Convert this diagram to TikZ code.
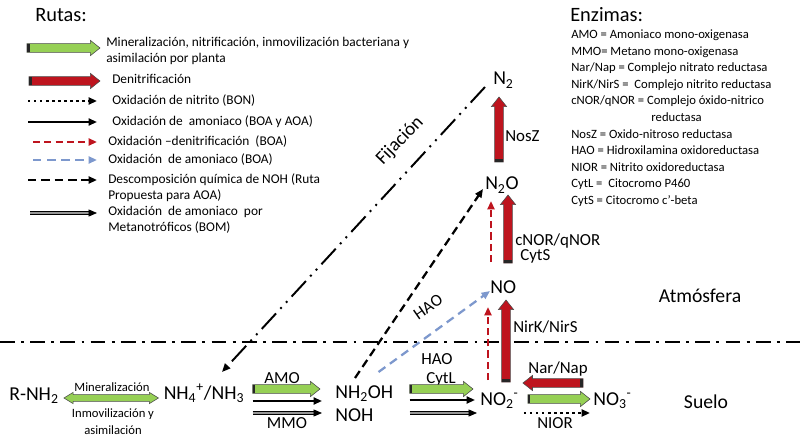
\documentclass[tikz,border=0pt]{standalone}
\usepackage{fontspec}
\setmainfont{Carlito}
\usetikzlibrary{arrows.meta,calc}
\definecolor{ncGreen}{RGB}{150,208,85}
\definecolor{ncRed}{RGB}{190,20,30}
\definecolor{ncBlue}{RGB}{125,152,205}
\definecolor{ncGray}{RGB}{150,150,150}

% sizes of the fat arrows
\newcommand{\fatw}{3.1pt}
\newcommand{\fathw}{5.4pt}
\newcommand{\fathl}{6.8pt}
% fat arrow with dark tail: fill colour, from, to
\newcommand{\fatarr}[3]{%
  \coordinate (fa-q) at ($(#3)!\fathl!(#2)$);
  \coordinate (fa-t) at ($(#2)!1.8pt!(#3)$);
  \filldraw[fill=#1, draw=black!70, line width=.4pt]
    ($(#2)!\fatw!90:(#3)$) -- ($(fa-q)!\fatw!90:(#3)$) -- ($(fa-q)!\fathw!90:(#3)$)
    -- (#3) -- ($(fa-q)!\fathw!-90:(#3)$) -- ($(fa-q)!\fatw!-90:(#3)$)
    -- ($(#2)!\fatw!-90:(#3)$) -- cycle;
  \fill[black!85] ($(#2)!\fatw!90:(#3)$) -- ($(fa-t)!\fatw!90:(#3)$)
    -- ($(fa-t)!\fatw!-90:(#3)$) -- ($(#2)!\fatw!-90:(#3)$) -- cycle;
}
% fat arrow with two heads
\newcommand{\fatdbl}[3]{%
  \coordinate (fa-q) at ($(#3)!\fathl!(#2)$);
  \coordinate (fa-p) at ($(#2)!\fathl!(#3)$);
  \filldraw[fill=#1, draw=black!70, line width=.4pt]
    (#2) -- ($(fa-p)!\fathw!90:(#3)$) -- ($(fa-p)!\fatw!90:(#3)$)
    -- ($(fa-q)!\fatw!90:(#3)$) -- ($(fa-q)!\fathw!90:(#3)$) -- (#3)
    -- ($(fa-q)!\fathw!-90:(#3)$) -- ($(fa-q)!\fatw!-90:(#3)$)
    -- ($(fa-p)!\fatw!-90:(#3)$) -- ($(fa-p)!\fathw!-90:(#3)$) -- cycle;
}

\begin{document}
\begin{tikzpicture}[x=0.025cm, y=-0.025cm,
    chem/.style={inner sep=0pt, font=\fontsize{14}{16}\selectfont},
    enzl/.style={inner sep=0pt, font=\fontsize{12}{14}\selectfont},
    minl/.style={inner sep=0pt, font=\fontsize{9}{11}\selectfont},
    zone/.style={inner sep=0pt, font=\fontsize{14}{16}\selectfont},
    title/.style={inner sep=0pt, anchor=west, font=\fontsize{14.5}{17}\selectfont},
    legtxt/.style={inner sep=0pt, anchor=north west, align=left, font=\fontsize{9.5}{11.6}\selectfont},
    enz/.style={inner sep=0pt, anchor=base west, font=\fontsize{9}{11}\selectfont},
    tip/.style={-{Triangle[length=6pt,width=5pt]}},
    bon/.style={tip, line width=1.7pt, dash pattern=on 1.7pt off 2.6pt},
    boa/.style={tip, line width=1.4pt},
    oxden/.style={tip, ncRed, line width=1.5pt, dash pattern=on 5pt off 3pt},
    oxblue/.style={tip, ncBlue, line width=1.6pt, dash pattern=on 6pt off 4pt},
    noh/.style={tip, line width=1.6pt, dash pattern=on 6pt off 3.5pt},
    bom/.style={tip, line width=.6pt, double=ncGray, double distance=1.3pt},
    fij/.style={tip, line width=1.4pt, dash pattern=on 15pt off 4.5pt on 1.4pt off 4.5pt on 1.4pt off 4.5pt},
    limit/.style={line width=1.4pt, dash pattern=on 10.5pt off 4.5pt on 2pt off 4.5pt}
  ]
  \useasboundingbox (0,0) rectangle (800,445);
  \fill[white] (0,0) rectangle (800,445);

  \node[title] (rutas) at (35,15) {Rutas:};
  \node[title] (enzimas) at (570,15) {Enzimas:};

  % legend
  \node[legtxt] (lg1) at (106,37) {Mineralización, nitrificación, inmovilización bacteriana y\\asimilación por planta};
  \node[legtxt] (lg2) at (112,74) {Denitrificación};
  \node[legtxt] (lg3) at (112,94) {Oxidación de nitrito (BON)};
  \node[legtxt] (lg4) at (112,115) {Oxidación de \ amoniaco (BOA y AOA)};
  \node[legtxt] (lg5) at (108,135) {Oxidación –denitrificación \ (BOA)};
  \node[legtxt] (lg6) at (108,153) {Oxidación \ de amoniaco (BOA)};
  \node[legtxt] (lg7) at (108,173) {Descomposición química de NOH (Ruta\\Propuesta para AOA)};
  \node[legtxt] (lg8) at (108,206) {Oxidación \ de amoniaco \ por\\Metanotróficos (BOM)};

  \coordinate (lg1a) at ($(lg1.north west)+(-79,11)$);
  \coordinate (lg1b) at ($(lg1.north west)+(-6,11)$);
  \fatarr{ncGreen}{lg1a}{lg1b}
  \coordinate (lg2a) at ($(lg2.north west)+(-83,7)$);
  \coordinate (lg2b) at ($(lg2.north west)+(-12,7)$);
  \fatarr{ncRed}{lg2a}{lg2b}
  \draw[bon] ($(lg3.north west)+(-84,7)$) -- ($(lg3.north west)+(-15,7)$);
  \draw[boa] ($(lg4.north west)+(-84,7)$) -- ($(lg4.north west)+(-15,7)$);
  \draw[oxden] ($(lg5.north west)+(-75,7)$) -- ($(lg5.north west)+(-11,7)$);
  \draw[oxblue] ($(lg6.north west)+(-75,7)$) -- ($(lg6.north west)+(-11,7)$);
  \draw[noh] ($(lg7.north west)+(-80,7)$) -- ($(lg7.north west)+(-11,7)$);
  \draw[bom] ($(lg8.north west)+(-78,7)$) -- ($(lg8.north west)+(-11,7)$);

  % enzymes
  \foreach \txt [count=\i] in {AMO = Amoniaco mono-oxigenasa, MMO= Metano mono-oxigenasa,
      Nar/Nap = Complejo nitrato reductasa, NirK/NirS = \ Complejo nitrito reductasa,
      cNOR/qNOR = Complejo óxido-nitrico, {\hspace*{57pt}reductasa},
      NosZ = Oxido-nitroso reductasa, HAO = Hidroxilamina oxidoreductasa,
      NIOR = Nitrito oxidoreductasa, CytL = \ Citocromo P460, CytS = Citocromo c’-beta}
    \node[enz] (enz-\i) at (571,22+16.6*\i) {\txt};

  % compounds
  \node[chem, anchor=base] (rnh2) at (34,400) {R-NH\textsubscript{2}};
  \node[chem, anchor=base] (nh4) at (204,399) {NH\textsubscript{4}\textsuperscript{+}/NH\textsubscript{3}};
  \node[chem, anchor=base west] (nh2oh) at (335,398) {NH\textsubscript{2}OH};
  \node[chem, anchor=base west] (noh) at (335,421) {NOH};
  \node[chem, anchor=base west] (no2) at (480,405) {NO\textsubscript{2}\textsuperscript{-}};
  \node[chem, anchor=base west] (no3) at (593,405) {NO\textsubscript{3}\textsuperscript{-}};
  \node[chem, anchor=base west] (no) at (490,293) {NO};
  \node[chem, anchor=base west] (n2o) at (485,190) {N\textsubscript{2}O};
  \node[chem, anchor=base west] (n2) at (493,85) {N\textsubscript{2}};

  % enzyme labels
  \node[enzl, anchor=base] (amo) at (282,383) {AMO};
  \node[enzl, anchor=base] (mmo) at (287,428) {MMO};
  \node[enzl, anchor=base] (hao) at (437,364) {HAO};
  \node[enzl, anchor=base] (cytl) at (441,383) {CytL};
  \node[enzl, anchor=base west] (nirk) at (513,332) {NirK/NirS};
  \node[enzl, anchor=base] (nar) at (558,373) {Nar/Nap};
  \node[enzl, anchor=base] (nior) at (555,428) {NIOR};
  \node[enzl, anchor=base west] (nosz) at (505,142) {NosZ};
  \node[enzl, anchor=base west] (cnor) at (515,245) {cNOR/qNOR};
  \node[enzl, anchor=base west] (cyts) at (520,260) {CytS};
  \node[enzl, rotate=35] (hao2) at (428,307) {HAO};
  \node[minl, anchor=base] (minz) at (112,391) {Mineralización};
  \node[minl, anchor=base] (inm1) at (113,417) {Inmovilización y};
  \node[minl, anchor=base] (inm2) at (113,434) {asimilación};
  \node[zone, anchor=base] (atm) at (700,302) {Atmósfera};
  \node[zone, anchor=base] (suelo) at (706,408) {Suelo};
  \node[zone, font=\fontsize{13.5}{16}\selectfont, rotate=46] (fij) at (400,141) {Fijación};

  % soil / atmosphere limit
  \draw[limit] (0,342) -- (800,342);

  % mineralizacion
  \coordinate (min-a) at ($(rnh2.base east)+(5,-2)$);
  \coordinate (min-b) at ($(min-a -| nh4.base west)+(-5,0)$);
  \begin{scope}
    \renewcommand{\fatw}{2.4pt}\renewcommand{\fathw}{4pt}\renewcommand{\fathl}{6.5pt}
    \fatdbl{ncGreen}{min-a}{min-b}
  \end{scope}

  % NH4 -> NH2OH / NOH
  \coordinate (amo-a) at ($(nh4.base east)+(8,-10)$);
  \coordinate (amo-b) at ($(amo-a -| nh2oh.base west)+(-15,0)$);
  \fatarr{ncGreen}{amo-a}{amo-b}
  \draw[boa] ($(nh4.base east)+(8,2)$) -- ($(nh2oh.base west)+(-13,3)$);
  \draw[bom] ($(nh4.base east)+(8,14)$) -- ($(nh2oh.base west)+(-13,15)$);

  % NH2OH -> NO2
  \coordinate (hao-a) at ($(nh2oh.base east)+(16,-9)$);
  \coordinate (hao-b) at ($(hao-a -| no2.base west)+(-7,0)$);
  \fatarr{ncGreen}{hao-a}{hao-b}
  \draw[boa] ($(nh2oh.base east)+(16,2)$) -- ($(no2.base west)+(-5,-5)$);
  \draw[bom] ($(nh2oh.base east)+(16,15)$) -- ($(no2.base west)+(-3,8)$);

  % NO2 <-> NO3
  \coordinate (nit-a) at ($(no2.base east)+(9,-6)$);
  \coordinate (nit-b) at ($(nit-a -| no3.base west)+(-3,0)$);
  \fatarr{ncGreen}{nit-a}{nit-b}
  \draw[bon] ($(no2.base east)+(5,8)$) -- ($(no3.base west)+(-3,8)$);
  \coordinate (nar-a) at ($(no3.base west)+(-10,-22)$);
  \coordinate (nar-b) at ($(nar-a -| no2.base east)+(4,0)$);
  \fatarr{ncRed}{nar-a}{nar-b}

  % denitrification
  \coordinate (nir-a) at ($(no2.base west)+(26,-23)$);
  \coordinate (nir-b) at ($(nir-a |- no.base)+(0,7)$);
  \fatarr{ncRed}{nir-a}{nir-b}
  \draw[oxden] ($(no2.base west)+(8,-25)$) -- ($(no2.base west |- no.base)+(8,14)$);
  \coordinate (nor-a) at ($(no.base west)+(18,-30)$);
  \coordinate (nor-b) at ($(nor-a |- n2o.base)+(0,5)$);
  \fatarr{ncRed}{nor-a}{nor-b}
  \draw[oxden] ($(no.base west)+(1,-31)$) -- ($(no.base west |- n2o.base)+(1,11)$);
  \coordinate (nos-a) at ($(n2o.base west)+(14,-28)$);
  \coordinate (nos-b) at ($(nos-a |- n2.base)+(0,12)$);
  \fatarr{ncRed}{nos-a}{nos-b}

  % NH2OH -> NO, N2O
  \draw[oxblue] ($(nh2oh.base east)+(-15,-26)$) -- ($(no.base west)+(0,-2)$);
  \draw[noh] ($(nh2oh.base west)+(20,-20)$) -- ($(n2o.base west)+(-2,-1)$);

  % fijacion
  \draw[fij] ($(n2.base west)+(-8,2)$) -- ($(nh4.base)+(18,-27)$);
\end{tikzpicture}
\end{document}
